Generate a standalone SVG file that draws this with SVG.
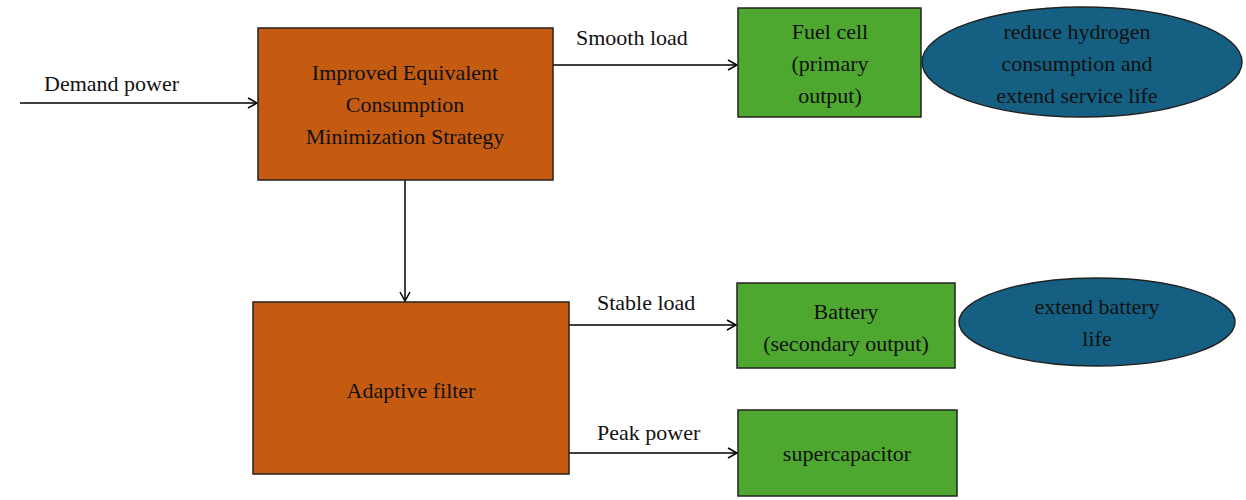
<svg xmlns="http://www.w3.org/2000/svg" width="1246" height="500" viewBox="0 0 1246 500">
<style>
text{font-family:"Liberation Serif","Times New Roman",serif;font-size:22px;fill:#111;text-anchor:middle}
.o{fill:#C55A11;stroke:#222;stroke-width:1.5}
.g{fill:#4EA72E;stroke:#222;stroke-width:1.5}
.b{fill:#156082;stroke:#222;stroke-width:1.5}
.c{stroke:#000;stroke-width:1.5;fill:none;marker-end:url(#a)}
.l{text-anchor:start}
</style>
<defs><marker id="a" markerWidth="12" markerHeight="12" refX="10" refY="6" orient="auto" markerUnits="userSpaceOnUse"><path d="M1,1 L10,6 L1,11" fill="none" stroke="#000" stroke-width="1.5"/></marker></defs>
<rect width="1246" height="500" fill="#fff"/>
<g id="connectors">
<line class="c" x1="20" y1="103" x2="257" y2="103"/>
<line class="c" x1="553" y1="65" x2="737" y2="65"/>
<line class="c" x1="405" y1="180" x2="405" y2="301"/>
<line class="c" x1="569" y1="325" x2="736" y2="325"/>
<line class="c" x1="569" y1="453" x2="737" y2="453"/>
<text class="l" x="44" y="91">Demand power</text>
<text class="l" x="576" y="45">Smooth load</text>
<text class="l" x="597" y="310">Stable load</text>
<text class="l" x="597" y="440">Peak power</text>
</g>
<g id="iecms"><rect class="o" x="258" y="28" width="295" height="152"/>
<text x="405" y="80">Improved Equivalent</text><text x="405" y="112">Consumption</text><text x="405" y="144">Minimization Strategy</text></g>
<g id="filter"><rect class="o" x="253" y="302" width="316" height="172"/><text x="411" y="398">Adaptive filter</text></g>
<g id="fuelcell"><rect class="g" x="738" y="8" width="183" height="109"/>
<text x="830" y="39">Fuel cell</text><text x="830" y="71">(primary</text><text x="830" y="103">output)</text></g>
<g id="goal1"><ellipse class="b" cx="1082" cy="62" rx="160" ry="55"/>
<text x="1077" y="39">reduce hydrogen</text><text x="1077" y="71">consumption and</text><text x="1077" y="103">extend service life</text></g>
<g id="battery"><rect class="g" x="737" y="283" width="218" height="85"/>
<text x="846" y="319">Battery</text><text x="846" y="351">(secondary output)</text></g>
<g id="goal2"><ellipse class="b" cx="1097" cy="322" rx="138" ry="44"/>
<text x="1097" y="314">extend battery</text><text x="1097" y="346">life</text></g>
<g id="supercap"><rect class="g" x="738" y="410" width="219" height="86"/><text x="847" y="461">supercapacitor</text></g>
</svg>
